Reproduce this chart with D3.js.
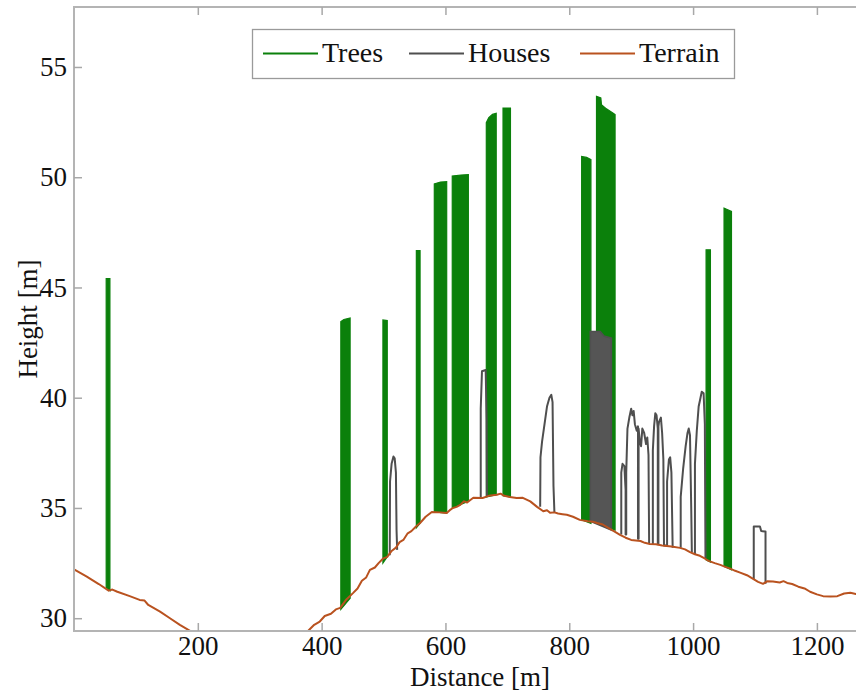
<!DOCTYPE html>
<html>
<head>
<meta charset="utf-8">
<script src="https://cdn.jsdelivr.net/npm/d3@7"></script>
<style>
  body { margin: 0; background: #fff; }
  svg text { font-family: "Liberation Serif", "DejaVu Serif", serif; fill: #111; }
</style>
</head>
<body>
<svg id="chart"></svg>
<script>
const width = 856;
const height = 695;

// terrain profile [distance m, height m]
const terrain = [
  [0, 32.22], [20, 31.9], [40, 31.55], [56, 31.25], [62, 31.3], [70, 31.2], [90, 31.0],
  [106, 30.83], [114, 30.8], [120, 30.6], [139, 30.3], [155, 30.0], [171, 29.7], [192, 29.35],
  [210, 29.0], [360, 29.0], [378, 29.42], [388, 29.7], [397, 29.85], [405, 30.1], [415, 30.2],
  [423, 30.4], [430, 30.47], [440, 30.85], [451, 31.15], [458, 31.35], [465, 31.7], [472, 31.85],
  [478, 32.19], [486, 32.3], [492, 32.5], [499, 32.7], [506, 32.78], [513, 33.05], [520, 33.2],
  [526, 33.45], [532, 33.55], [539, 33.85], [545, 33.95], [552, 34.15], [559, 34.32], [568, 34.6],
  [578, 34.82], [590, 34.8], [602, 34.77], [607, 34.9], [612, 35.0], [618, 35.05], [624, 35.14],
  [630, 35.3], [635, 35.25], [645, 35.46], [660, 35.45], [670, 35.55], [683, 35.6], [689, 35.65],
  [695, 35.55], [704, 35.5], [715, 35.45], [725, 35.46], [737, 35.3], [748, 35.05], [758, 34.85],
  [764, 34.9], [769, 34.78], [776, 34.8], [782, 34.75], [789, 34.72], [796, 34.69], [806, 34.6],
  [817, 34.46], [830, 34.4], [838, 34.38], [845, 34.32], [854, 34.25], [863, 34.1], [872, 33.95],
  [882, 33.78], [891, 33.65], [900, 33.55], [915, 33.5], [922, 33.42], [930, 33.37], [940, 33.35],
  [950, 33.3], [965, 33.25], [979, 33.19], [987, 33.12], [995, 33.0], [1003, 32.9], [1011, 32.83],
  [1018, 32.72], [1025, 32.6], [1035, 32.5], [1044, 32.42], [1052, 32.33], [1060, 32.25],
  [1068, 32.15], [1076, 32.07], [1087, 31.95], [1097, 31.78], [1105, 31.65], [1113, 31.56],
  [1120, 31.68], [1129, 31.66], [1140, 31.62], [1146, 31.68], [1152, 31.6], [1160, 31.55],
  [1170, 31.43], [1180, 31.35], [1189, 31.2], [1200, 31.08], [1210, 31.0], [1222, 30.98],
  [1233, 31.0], [1244, 31.12], [1254, 31.15], [1263, 31.1], [1290, 31.1]
];

// tree stands, outline of each stand [distance, height]
const trees = [
  [[52, 31.4], [52, 45.4], [58, 45.4], [58, 31.25]],
  [[431, 30.4], [431, 43.45], [436, 43.55], [446, 43.62], [446, 30.9]],
  [[499, 32.5], [499, 43.53], [506, 43.5], [506, 32.78]],
  [[553, 34.1], [553, 46.67], [559, 46.67], [559, 34.3]],
  [[582, 34.82], [582, 49.7], [592, 49.78], [602, 49.8], [602, 34.77]],
  [[611, 35.0], [611, 50.05], [625, 50.1], [637, 50.12], [637, 35.3]],
  [[666, 35.5], [666, 52.47], [670, 52.7], [676, 52.85], [682, 52.9], [682, 35.6]],
  [[693, 35.55], [693, 53.14], [705, 53.14], [705, 35.5]],
  [[820, 34.46], [820, 50.94], [828, 50.9], [835, 50.8], [835, 34.3]],
  [[844, 34.32], [844, 53.67], [851, 53.6], [852, 53.29], [860, 53.1], [871, 52.9], [874, 52.84], [874, 34.0]],
  [[1021, 32.65], [1021, 46.71], [1028, 46.71], [1028, 32.55]],
  [[1050, 32.35], [1050, 48.6], [1062, 48.45], [1062, 32.2]]
];

// house roof profiles
const houses = [
  [[510, 32.85], [510.5, 36.2], [513, 37.0], [516, 37.33], [518, 37.25], [520, 36.6], [521, 34.0], [522, 33.1]],
  [[657, 35.45], [657, 39.5], [659, 41.2], [665, 41.26], [666.5, 39], [667, 35.5]],
  [[753, 35.05], [753.5, 37.3], [756, 38.0], [761, 39.0], [764, 39.6], [768, 40.0], [771, 40.13], [773, 39.8], [774.5, 36], [776, 34.8]],
  [[884, 33.8], [884, 36.6], [886, 37.0], [889, 36.9], [891, 35.8], [891, 33.8], [892, 33.8], [892, 36.6], [894, 38.6], [897, 39.1],
   [900, 39.5], [902, 39.2], [904, 39.4], [906, 38.8], [909, 38.5], [911, 38.7], [911, 33.6], [912, 33.6], [912, 38.6], [914, 38.0],
   [916, 37.8], [918, 38.6], [921, 38.4], [924, 37.9], [926, 38.2], [928, 37.4], [929, 33.4]],
  [[935, 33.35], [935, 37.6], [937, 38.7], [939, 39.3], [941, 39.2], [943, 38.6], [943, 33.35], [944, 33.35], [944, 38.7], [945, 38.9],
   [948, 39.1], [950, 38.4], [952, 37.2], [953, 33.3], [958, 33.3], [958, 36.2], [961, 37.2], [963, 37.3], [965, 36.6], [967, 33.2]],
  [[980, 33.2], [980, 35.5], [984, 36.8], [988, 37.8], [991, 38.4], [993, 38.6], [995, 38.3], [997, 35], [998, 33.0]],
  [[1003, 32.9], [1003, 37.0], [1006, 38.5], [1009, 39.6], [1012, 40.0], [1014, 40.27], [1017, 40.2], [1019, 38.8], [1020, 32.7]],
  [[1098, 31.78], [1098, 34.16], [1108, 34.16], [1110, 33.95], [1117, 33.93], [1117, 31.56]]
];

// dense block of house returns
const houseBlocks = [
  [[834, 34.4], [834, 43.0], [850, 43.0], [856, 42.8], [868, 42.7], [868, 34.0]]
];

const xTicks = [200, 400, 600, 800, 1000, 1200];
const yTicks = [30, 35, 40, 45, 50, 55];
const legendItems = ["Trees", "Houses", "Terrain"];

const colors = { Trees: "#0b800b", Houses: "#4f4f4f", Terrain: "#b9521f" };

const svg = d3.select("#chart").attr("width", width).attr("height", height);

const x = d3.scaleLinear().domain([0, 1310]).range([74, 885]);
const y = d3.scaleLinear().domain([29.42, 57.72]).range([631, 7]);

svg.append("defs").append("clipPath").attr("id", "plot-clip")
  .append("rect")
  .attr("x", x(0)).attr("y", y(57.72))
  .attr("width", x(1310) - x(0)).attr("height", y(29.42) - y(57.72));

const plot = svg.append("g").attr("clip-path", "url(#plot-clip)");

const line = d3.line().x((d) => x(d[0])).y((d) => y(d[1]));

plot.append("g").selectAll("path")
  .data(trees).enter().append("path")
  .attr("d", (d) => line(d) + "Z")
  .attr("fill", colors.Trees)
  .attr("stroke", colors.Trees)
  .attr("stroke-width", 1.2);

plot.append("g").selectAll("path")
  .data(houseBlocks).enter().append("path")
  .attr("d", (d) => line(d) + "Z")
  .attr("fill", "#555")
  .attr("stroke", colors.Houses)
  .attr("stroke-width", 1.6);

plot.append("g").selectAll("path")
  .data(houses).enter().append("path")
  .attr("d", line)
  .attr("fill", "none")
  .attr("stroke", colors.Houses)
  .attr("stroke-width", 2)
  .attr("stroke-linejoin", "round");

plot.append("path")
  .datum(terrain)
  .attr("d", line)
  .attr("fill", "none")
  .attr("stroke", colors.Terrain)
  .attr("stroke-width", 2)
  .attr("stroke-linejoin", "round");

// frame
svg.append("rect")
  .attr("x", x(0)).attr("y", y(57.72))
  .attr("width", x(1310) - x(0)).attr("height", y(29.42) - y(57.72))
  .attr("fill", "none").attr("stroke", "#b4b4b4").attr("stroke-width", 2);

svg.append("g")
  .attr("transform", `translate(0,${y(29.42)})`)
  .call(d3.axisBottom(x).tickValues(xTicks).tickSizeInner(-8).tickSizeOuter(0).tickPadding(5).tickFormat(d3.format("d")));

svg.append("g")
  .attr("transform", `translate(0,${y(57.72)})`)
  .call(d3.axisTop(x).tickValues(xTicks).tickSizeInner(-8).tickSizeOuter(0).tickFormat(""));

svg.append("g")
  .attr("transform", `translate(${x(0)},0)`)
  .call(d3.axisLeft(y).tickValues(yTicks).tickSizeInner(-8).tickSizeOuter(0).tickPadding(7));

svg.selectAll(".domain").remove();
svg.selectAll(".tick line").attr("stroke", "#a8a8a8").attr("stroke-width", 1.5);
svg.selectAll(".tick text").style("font-size", "27px").attr("fill", "#111");

svg.append("text")
  .attr("x", 480).attr("y", 686)
  .attr("text-anchor", "middle")
  .style("font-size", "27px")
  .text("Distance [m]");

svg.append("text")
  .attr("transform", "translate(37,319) rotate(-90)")
  .attr("text-anchor", "middle")
  .style("font-size", "27px")
  .text("Height [m]");

// legend
const legend = svg.append("g");
legend.append("rect")
  .attr("x", 252.5).attr("y", 29.5).attr("width", 482).attr("height", 49)
  .attr("fill", "#fff").attr("stroke", "#9a9a9a").attr("stroke-width", 1.3);

const legendX = [263, 409, 580];
legendItems.forEach((name, i) => {
  legend.append("line")
    .attr("x1", legendX[i]).attr("x2", legendX[i] + 55)
    .attr("y1", 53.5).attr("y2", 53.5)
    .attr("stroke", colors[name]).attr("stroke-width", 2);
  legend.append("text")
    .attr("x", legendX[i] + 59).attr("y", 62)
    .style("font-size", "28px")
    .text(name);
});
</script>
</body>
</html>
